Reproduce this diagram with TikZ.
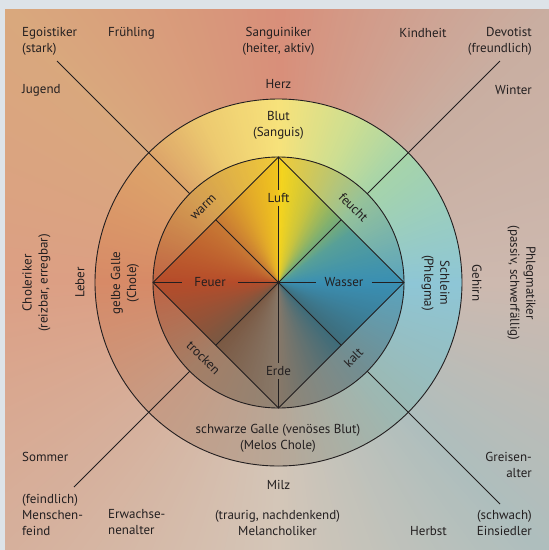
\documentclass[tikz,border=0pt]{standalone}
\usepackage{fontspec}
\setmainfont{PT Sans}
\usetikzlibrary{calc}
\definecolor{framecol}{HTML}{DDE3E8}
\definecolor{txt}{HTML}{231F20}
% background keys
\definecolor{bgA}{HTML}{CDB9AF}
\definecolor{bgB}{HTML}{C9AEA1}
\definecolor{bgC}{HTML}{D88F7A}
\definecolor{bgD}{HTML}{D9A87D}
\definecolor{bgE}{HTML}{DC9F84}
\definecolor{bgF}{HTML}{D6B09C}
\definecolor{bgG}{HTML}{D4C6B8}
\definecolor{bgH}{HTML}{AEBEBD}
% ring keys
\definecolor{rA}{HTML}{8EC6D6}
\definecolor{rB}{HTML}{A6D4AA}
\definecolor{rB2}{HTML}{CCDE92}
\definecolor{rC}{HTML}{F7E27B}
\definecolor{rC2}{HTML}{EDCB70}
\definecolor{rD}{HTML}{DDA56A}
\definecolor{rE}{HTML}{D78A67}
\definecolor{rF}{HTML}{C79B84}
\definecolor{rG}{HTML}{B8A797}
\definecolor{rH}{HTML}{9BB9B4}
% annulus keys
\definecolor{aA}{HTML}{5AA4BE}
\definecolor{aB}{HTML}{96C29A}
\definecolor{aC}{HTML}{F0CB38}
\definecolor{aD}{HTML}{D49E52}
\definecolor{aE}{HTML}{C06444}
\definecolor{aF}{HTML}{A47E66}
\definecolor{aG}{HTML}{928474}
\definecolor{aH}{HTML}{728E92}
% diamond keys
\definecolor{dA}{HTML}{3A8FB3}
\definecolor{dA2}{HTML}{58A098}
\definecolor{dB}{HTML}{80B070}
\definecolor{dB2}{HTML}{C8C440}
\definecolor{dC}{HTML}{F5D41E}
\definecolor{dC2}{HTML}{F0C41E}
\definecolor{dC3}{HTML}{E2A82A}
\definecolor{dD}{HTML}{C87A34}
\definecolor{dE}{HTML}{B64C2A}
\definecolor{dF}{HTML}{7A5842}
\definecolor{dG}{HTML}{887868}
\definecolor{dH}{HTML}{3E6C7A}
\newcommand\mywheel[2]{%
  \foreach \a/\ca/\b/\cb in {#2} {%
    \pgfmathtruncatemacro\bm{\b-1}%
    \foreach \x in {\a,...,\bm} {%
      \pgfmathtruncatemacro\p{round((\x-\a+0.5)/(\b-\a)*100)}%
      \fill[fill=\cb!\p!\ca] (0,0) -- (\x-0.4:#1) -- (\x+1.4:#1) -- cycle;
    }%
  }%
}
\begin{document}
\begin{tikzpicture}[x=1pt,y=1pt,
  lbl/.style={font=\fontsize{13}{16}\selectfont, text=txt, inner sep=0pt, align=center},
  ln/.style={draw=txt, line width=0.9pt},
  elem/.style={lbl, inner xsep=10pt, inner ysep=3.5pt},
]
\useasboundingbox (0,0) rectangle (549,-550);
\fill[framecol] (0,0) rectangle (549,-550);
\coordinate (C) at (278.5,-282.5);
% background
\begin{scope}
  \clip (5,-9) rectangle (549,-550);
  \begin{scope}[shift={(C)}]
    \mywheel{800pt}{0/bgA/45/bgB, 45/bgB/90/bgC, 90/bgC/135/bgD, 135/bgD/180/bgE, 180/bgE/225/bgF, 225/bgF/270/bgG, 270/bgG/315/bgH, 315/bgH/360/bgA}
  \end{scope}
\end{scope}
% outer ring
\begin{scope}
  \clip (C) circle[radius=183.5pt];
  \begin{scope}[shift={(C)}]
    \mywheel{190pt}{0/rA/45/rB, 45/rB/65/rB2, 65/rB2/90/rC, 90/rC/115/rC2, 115/rC2/135/rD, 135/rD/180/rE, 180/rE/225/rF, 225/rF/270/rG, 270/rG/315/rH, 315/rH/360/rA}
  \end{scope}
\end{scope}
% inner circle
\coordinate (dT) at (278.5,-157);
\coordinate (dB) at (278.5,-408);
\coordinate (dL) at (153,-282.5);
\coordinate (dR) at (404,-282.5);
\begin{scope}
  \clip (C) circle[radius=125.5pt];
  \begin{scope}[shift={(C)}]
    \mywheel{130pt}{0/aA/45/aB, 45/aB/90/aC, 90/aC/135/aD, 135/aD/180/aE, 180/aE/225/aF, 225/aF/270/aG, 270/aG/315/aH, 315/aH/360/aA}
  \end{scope}
\end{scope}
\begin{scope}
  \clip (dT) -- (dR) -- (dB) -- (dL) -- cycle;
  \begin{scope}[shift={(C)}]
    \mywheel{130pt}{0/dA/35/dA2, 35/dA2/50/dB, 50/dB/70/dB2, 70/dB2/89/dC, 89/dC/91/dC2, 91/dC2/110/dC3, 110/dC3/135/dD, 135/dD/180/dE, 180/dE/225/dF, 225/dF/270/dG, 270/dG/315/dH, 315/dH/360/dA}
  \end{scope}
\end{scope}
% circles and diamond
\draw[ln] (C) circle[radius=183.5pt];
\draw[ln] (C) circle[radius=125.5pt];
\draw[ln] (dT) -- (dR) -- (dB) -- (dL) -- cycle;
% diagonal points
\coordinate (iTL) at ($(C)+(135:125.5pt)$);
\coordinate (iTR) at ($(C)+(45:125.5pt)$);
\coordinate (iBL) at ($(C)+(225:125.5pt)$);
\coordinate (iBR) at ($(C)+(315:125.5pt)$);
\coordinate (mTL) at ($(dT)!0.5!(dL)$);
\coordinate (mTR) at ($(dT)!0.5!(dR)$);
\coordinate (mBL) at ($(dB)!0.5!(dL)$);
\coordinate (mBR) at ($(dB)!0.5!(dR)$);
\coordinate (eTL) at (57,-61);
\coordinate (eTR) at (500,-61);
\coordinate (eBL) at (74,-487);
\coordinate (eBR) at (500,-504);
\draw[ln] (eTL) -- (iTL);
\draw[ln] (mTL) -- (C) -- (mBR);
\draw[ln] (iBR) -- (eBR);
\draw[ln] (eTR) -- (iTR);
\draw[ln] (mTR) -- (C) -- (mBL);
\draw[ln] (iBL) -- (eBL);
% element labels
\node[elem] (luft) at (278.5,-198) {Luft};
\node[elem, inner xsep=12pt] (feuer) at (210,-282.5) {Feuer};
\node[elem, inner xsep=8pt] (wasser) at (344,-282.5) {Wasser};
\node[elem] (erde) at (278.5,-371) {Erde};
\draw[ln] (dT) -- (luft) (luft) -- (C);
\draw[ln] (C) -- (erde) (erde) -- (dB);
\draw[ln] (dL) -- (feuer) (feuer) -- (C);
\draw[ln] (C) -- (wasser) (wasser) -- (dR);
\node[lbl, rotate=45] (warm) at (203.5,-207.5) {warm};
\node[lbl, rotate=-45] (feucht) at (353.5,-207.5) {feucht};
\node[lbl, rotate=-45] (trocken) at (203.5,-357.5) {trocken};
\node[lbl, rotate=45] (kalt) at (353.5,-357.5) {kalt};
% ring labels
\node[lbl] (blut) at (278.5,-125) {Blut\\(Sanguis)};
\node[lbl, rotate=90] (gelbe) at (125,-283) {gelbe Galle\\(Chole)};
\node[lbl, rotate=-90] (schleim) at (435.5,-283) {Schleim\\(Phlegma)};
\node[lbl] (schwarze) at (278,-438) {schwarze Galle (venöses Blut)\\(Melos Chole)};
% organs
\node[lbl] (herz) at (278.5,-84) {Herz};
\node[lbl, rotate=90] (leber) at (80,-282.5) {Leber};
\node[lbl, rotate=-90] (gehirn) at (477,-283) {Gehirn};
\node[lbl] (milz) at (278.5,-485) {Milz};
% temperaments
\node[lbl] (sang) at (278.5,-41) {Sanguiniker\\(heiter, aktiv)};
\node[lbl, rotate=90] (chol) at (36.5,-283) {Choleriker\\(reizbar, erregbar)};
\node[lbl, rotate=-90] (phleg) at (521.5,-283) {Phlegmatiker\\(passiv, schwerfällig)};
\node[lbl] (melan) at (277.5,-522.5) {(traurig, nachdenkend)\\Melancholiker};
% corners
\node[lbl, anchor=west, align=left] (ego) at (22,-41) {Egoistiker\\(stark)};
\node[lbl] (fruehling) at (131.5,-33) {Frühling};
\node[lbl] (kindheit) at (423,-33) {Kindheit};
\node[lbl, anchor=east, align=right] (devot) at (532,-41) {Devotist\\(freundlich)};
\node[lbl, anchor=west] (jugend) at (22,-90) {Jugend};
\node[lbl, anchor=east] (winter) at (532,-90) {Winter};
\node[lbl, anchor=west] (sommer) at (22,-457) {Sommer};
\node[lbl, anchor=west, align=left] (feind) at (22,-514.5) {(feindlich)\\Menschen-\\feind};
\node[lbl, anchor=west, align=left] (erw) at (108,-522.5) {Erwachse-\\nenalter};
\node[lbl] (herbst) at (428.5,-531) {Herbst};
\node[lbl, anchor=east, align=right] (einsied) at (532,-522.5) {(schwach)\\Einsiedler};
\node[lbl, anchor=east, align=right] (greis) at (532,-465) {Greisen-\\alter};
\end{tikzpicture}
\end{document}
